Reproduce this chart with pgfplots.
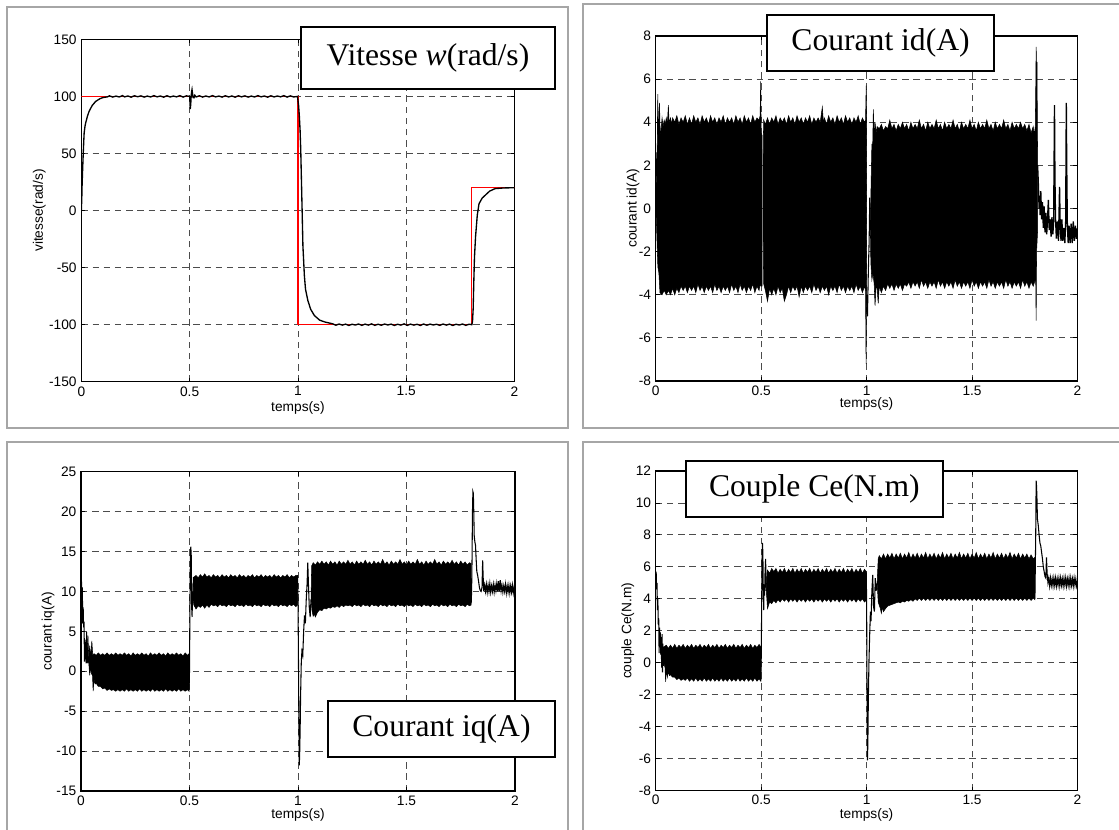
\documentclass[border=0pt]{standalone}
\usepackage{fontspec}
\setmainfont{Liberation Sans}
\newfontfamily\tnr{Liberation Serif}
\usepackage{pgfplots}
\pgfplotsset{compat=1.18}
\pgfplotsset{
 mstyle/.style={
  scale only axis, anchor=south west,
  xmin=0, xmax=2,
  xtick={0,0.5,1,1.5,2}, xticklabels={0,0.5,1,1.5,2},
  grid=major,
  major grid style={dash pattern=on 4.8pt off 3.6pt, black!70, line width=0.6pt},
  tick align=inside, major tick length=3pt,
  tick style={black, line width=0.6pt},
  axis line style={black, line width=1pt},
  tick label style={font=\fontsize{10.3}{12}\selectfont},
  label style={font=\fontsize{10.3}{12}\selectfont},
  xlabel={temps(s)},
 },
 band/.style={fill=black, draw=black, line width=0.4pt},
 sig/.style={black, line width=0.8pt},
}
\newcommand{\ttl}{\fontsize{23.7}{28}\selectfont\tnr}
\begin{document}
\begin{tikzpicture}
\useasboundingbox (0,0) rectangle (839.25pt,-621.75pt);
\draw[black!35, line width=0.9pt] (5.25pt,-5.25pt) rectangle (426pt,-321pt);
\draw[black!35, line width=0.9pt] (437.25pt,-3pt) rectangle (850pt,-321pt);
\draw[black!35, line width=0.9pt] (5.25pt,-331.5pt) rectangle (426pt,-630pt);
\draw[black!35, line width=0.9pt] (437.25pt,-331.5pt) rectangle (850pt,-630pt);

%% ---------------- Panel 1: vitesse
\begin{axis}[mstyle, at={(61pt,-286.3pt)}, width=324.9pt, height=256.8pt,
  ymin=-150, ymax=150, ytick={-150,-100,-50,0,50,100,150},
  yticklabels={-150,-100,-50,0,50,100,150},
  ylabel={vitesse(rad/s)},
  ylabel style={at={(axis description cs:-0.097,0.5)}, anchor=center},
  xlabel style={at={(axis description cs:0.5,0)}, anchor=center, yshift=-19.5pt}]
\addplot[red, line width=0.9pt] coordinates {(0,100)(1,100)(1,-100)(1.8,-100)(1.8,20)(2,20)};
\addplot[sig, line width=1pt] coordinates {
(0,0)(0.002,10)(0.0033,21)(0.006,36)(0.0083,47.5)(0.011,60)(0.013,68)(0.017,74)(0.02,76.7)(0.028,82.5)(0.036,87)(0.05,92)(0.066,95.6)(0.086,98)(0.1,99)(0.12,99.6)
(0.13,100.5)(0.145,99.4)(0.16,100.3)(0.175,99.5)(0.19,100.7)(0.2,99.6)(0.215,100.4)(0.23,99.3)(0.245,100.6)(0.26,99.7)(0.275,100.5)(0.29,99.4)(0.305,100.3)(0.32,99.5)(0.335,100.7)(0.35,99.6)(0.365,100.4)(0.38,99.3)(0.395,100.6)(0.41,99.5)(0.425,100.3)(0.44,99.6)(0.455,100.7)(0.47,99.4)(0.485,100.5)(0.5,100)
(0.501,97)(0.503,89)(0.505,93)(0.507,100)(0.509,104)(0.511,106)(0.513,103)(0.516,99)(0.52,98.8)(0.524,101)(0.53,99.5)
(0.545,100.6)(0.56,99.4)(0.575,100.4)(0.59,99.5)(0.605,100.7)(0.62,99.6)(0.635,100.3)(0.65,99.4)(0.665,100.6)(0.68,99.5)(0.695,100.4)(0.71,99.3)(0.725,100.6)(0.74,99.6)(0.755,100.5)(0.77,99.4)(0.785,100.3)(0.8,99.5)(0.815,100.7)(0.83,99.6)(0.845,100.4)(0.86,99.3)(0.875,100.6)(0.89,99.5)(0.905,100.4)(0.92,99.6)(0.935,100.7)(0.95,99.4)(0.965,100.5)(0.98,99.5)(0.998,100)
(1.003,92)(1.0066,82.5)(1.01,70)(1.013,53)(1.0182,9.6)(1.023,-31)(1.0297,-57)(1.035,-69)(1.046,-79)(1.059,-86.6)(1.076,-92)(1.1,-96)(1.125,-97.7)(1.16,-99.2)
(1.175,-100.5)(1.19,-99.4)(1.205,-100.4)(1.22,-99.5)(1.235,-100.7)(1.25,-99.6)(1.265,-100.3)(1.28,-99.4)(1.295,-100.6)(1.31,-99.5)(1.325,-100.4)(1.34,-99.3)(1.355,-100.6)(1.37,-99.6)(1.385,-100.5)(1.4,-99.4)(1.415,-100.3)(1.43,-99.5)(1.445,-100.7)(1.46,-99.6)(1.475,-100.4)(1.49,-99.3)(1.505,-100.6)(1.52,-99.5)(1.535,-100.4)(1.55,-99.6)(1.565,-100.7)(1.58,-99.4)(1.595,-100.5)(1.61,-99.5)(1.625,-100.3)(1.64,-99.6)(1.655,-100.6)(1.67,-99.4)(1.685,-100.4)(1.7,-99.5)(1.715,-100.7)(1.73,-99.6)(1.745,-100.3)(1.76,-99.4)(1.775,-100.6)(1.79,-99.6)(1.803,-100)
(1.806,-97)(1.809,-86)(1.812,-62)(1.815,-41)(1.82,-23)(1.828,-4)(1.836,6)(1.851,11)(1.868,14)(1.885,17)(1.91,19.2)(1.95,19.8)(2,20)};
\end{axis}

%% ---------------- Panel 2: id
\begin{axis}[mstyle, at={(491.8pt,-285.75pt)}, width=316.3pt, height=258.75pt,
  ymin=-8, ymax=8, ytick={-8,-6,-4,-2,0,2,4,6,8},
  yticklabels={-8,-6,-4,-2,0,2,4,6,8},
  ylabel={courant id(A)},
  ylabel style={at={(axis description cs:-0.054,0.5)}, anchor=center},
  xlabel style={at={(axis description cs:0.5,0)}, anchor=center, yshift=-17.5pt}]
\addplot[band] coordinates {
(0.001,0)(0.004,2.6)(0.006,1.5)(0.008,4.0)(0.01,5.3)(0.012,3.4)(0.015,4.0)(0.018,4.9)(0.021,3.4)(0.025,3.6)(0.03,4.2)(0.035,3.8)(0.04,4.1)(0.045,3.9)(0.05,4.2)(0.055,3.9)(0.06,4.8)(0.063,4.0)(0.07,4.2)(0.075,3.9)(0.08,4.2)(0.09,4.0)(0.1,4.3)(0.11,3.9)(0.12,4.2)(0.13,4.0)(0.14,4.3)(0.15,3.9)(0.16,4.2)(0.17,3.9)(0.18,4.3)(0.19,4.0)(0.2,4.2)(0.21,3.9)(0.22,4.3)(0.23,4.0)(0.24,4.2)(0.25,3.9)(0.26,4.3)(0.27,4.0)(0.28,4.2)(0.29,3.9)(0.3,4.2)(0.31,4.0)(0.32,4.3)(0.33,3.9)(0.34,4.2)(0.35,4.0)(0.36,4.2)(0.37,3.9)(0.38,4.3)(0.39,4.0)(0.4,4.2)(0.41,3.9)(0.42,4.3)(0.43,4.0)(0.44,4.2)(0.45,3.9)(0.46,4.3)(0.47,4.0)(0.48,4.2)(0.49,4.1)(0.495,4.3)(0.4975,5.9)(0.5,3.5)(0.504,3.4)
(0.504,-3.6)(0.499,-3.6)(0.495,-3.5)(0.49,-3.8)(0.48,-3.6)(0.47,-3.9)(0.46,-3.5)(0.45,-3.8)(0.44,-3.6)(0.43,-3.9)(0.42,-3.6)(0.41,-3.8)(0.4,-3.5)(0.39,-3.9)(0.38,-3.6)(0.37,-3.8)(0.36,-3.5)(0.35,-3.9)(0.34,-3.6)(0.33,-3.8)(0.32,-3.6)(0.31,-3.9)(0.3,-3.6)(0.29,-3.8)(0.28,-3.5)(0.27,-3.9)(0.26,-3.6)(0.25,-3.8)(0.24,-3.6)(0.23,-3.9)(0.22,-3.6)(0.21,-3.8)(0.2,-3.5)(0.19,-3.9)(0.18,-3.6)(0.17,-3.8)(0.16,-3.6)(0.15,-3.9)(0.14,-3.6)(0.13,-3.8)(0.12,-3.6)(0.11,-3.9)(0.1,-3.7)(0.09,-4.0)(0.08,-3.7)(0.07,-4.0)(0.06,-3.8)(0.05,-4.0)(0.04,-3.8)(0.03,-4.0)(0.02,-3.9)(0.015,-3.0)(0.01,-2.7)(0.006,-1.5)(0.001,0)};
\addplot[band] coordinates {
(0.509,0.5)(0.51,3.0)(0.512,4.1)(0.52,3.9)(0.53,4.2)(0.54,3.9)(0.55,4.2)(0.56,4.0)(0.57,4.3)(0.58,3.9)(0.59,4.2)(0.6,4.0)(0.61,4.2)(0.62,3.9)(0.63,4.3)(0.64,4.0)(0.65,4.2)(0.66,3.9)(0.67,4.3)(0.68,4.0)(0.69,4.2)(0.7,3.9)(0.71,4.2)(0.72,4.0)(0.73,4.3)(0.74,3.9)(0.75,4.2)(0.76,4.0)(0.77,4.2)(0.78,4.0)(0.79,4.7)(0.795,4.0)(0.8,4.2)(0.81,3.9)(0.82,4.3)(0.83,4.0)(0.84,4.2)(0.85,3.9)(0.86,4.3)(0.87,4.0)(0.88,4.2)(0.89,3.9)(0.9,4.3)(0.91,4.0)(0.92,4.2)(0.93,3.9)(0.94,4.2)(0.95,4.0)(0.96,4.3)(0.97,3.9)(0.98,4.2)(0.99,4.0)(0.995,4.1)(0.998,5.7)(1.0,4.0)
(1.0,-4.0)(0.9975,-7.2)(0.995,-3.8)(0.99,-3.6)(0.98,-3.9)(0.97,-3.6)(0.96,-3.8)(0.95,-3.5)(0.94,-3.9)(0.93,-3.6)(0.92,-3.8)(0.91,-3.6)(0.9,-3.9)(0.89,-3.6)(0.88,-3.8)(0.87,-3.5)(0.86,-3.9)(0.85,-3.6)(0.84,-3.8)(0.83,-3.6)(0.82,-4.0)(0.81,-3.6)(0.8,-3.8)(0.79,-3.6)(0.78,-3.9)(0.77,-3.6)(0.76,-3.8)(0.75,-3.5)(0.74,-3.9)(0.73,-3.6)(0.72,-3.8)(0.71,-3.6)(0.7,-3.9)(0.69,-3.6)(0.68,-4.1)(0.67,-3.6)(0.66,-3.8)(0.65,-3.6)(0.64,-3.9)(0.63,-3.6)(0.62,-4.0)(0.61,-4.3)(0.6,-3.7)(0.59,-3.9)(0.58,-3.6)(0.57,-4.0)(0.56,-3.7)(0.55,-4.0)(0.54,-3.7)(0.53,-4.3)(0.52,-3.8)(0.512,-3.5)(0.51,-2)(0.509,0.5)};
\addplot[sig] coordinates {(1.0,-4)(1.004,-5)(1.008,-3)(1.012,-1.5)(1.015,0.5)(1.018,-1)};
\addplot[band] coordinates {
(1.018,-1)(1.02,0.5)(1.025,3.0)(1.028,2.5)(1.032,4.6)(1.036,3.2)(1.04,4.0)(1.045,3.5)(1.05,3.8)(1.06,3.7)(1.07,3.9)(1.08,3.6)(1.09,3.8)(1.1,3.7)(1.11,4.1)(1.12,3.7)(1.13,3.9)(1.14,3.6)(1.15,3.9)(1.16,3.7)(1.17,4.0)(1.18,3.7)(1.19,3.9)(1.2,3.6)(1.21,4.0)(1.22,3.7)(1.23,3.9)(1.24,3.7)(1.25,4.1)(1.26,3.7)(1.27,3.9)(1.28,3.6)(1.29,4.0)(1.3,3.7)(1.31,3.9)(1.32,3.7)(1.33,4.1)(1.34,3.7)(1.35,3.9)(1.36,3.6)(1.37,4.0)(1.38,3.7)(1.39,3.9)(1.4,3.7)(1.41,4.1)(1.42,3.7)(1.43,3.9)(1.44,3.6)(1.45,4.0)(1.46,3.7)(1.47,3.9)(1.48,3.7)(1.49,4.1)(1.5,3.7)(1.51,3.9)(1.52,3.6)(1.53,4.0)(1.54,3.7)(1.55,3.9)(1.56,3.7)(1.57,4.1)(1.58,3.7)(1.59,3.9)(1.6,3.6)(1.61,4.0)(1.62,3.7)(1.63,3.9)(1.64,3.7)(1.65,4.1)(1.66,3.7)(1.67,3.9)(1.68,3.6)(1.69,4.0)(1.7,3.7)(1.71,3.9)(1.72,3.7)(1.73,4.0)(1.74,3.7)(1.75,3.9)(1.76,3.6)(1.77,3.9)(1.78,3.5)(1.79,3.8)(1.795,3.4)(1.8,3.8)(1.802,5.5)(1.804,7.5)(1.806,6.5)(1.808,6.8)(1.811,2)
(1.811,-1)(1.806,-2)(1.804,-5.2)(1.802,-3.4)(1.8,-3.3)(1.79,-3.6)(1.78,-3.4)(1.77,-3.7)(1.76,-3.4)(1.75,-3.6)(1.74,-3.3)(1.73,-3.7)(1.72,-3.4)(1.71,-3.6)(1.7,-3.4)(1.69,-3.7)(1.68,-3.4)(1.67,-3.6)(1.66,-3.3)(1.65,-3.7)(1.64,-3.4)(1.63,-3.6)(1.62,-3.4)(1.61,-3.7)(1.6,-3.4)(1.59,-3.6)(1.58,-3.3)(1.57,-3.7)(1.56,-3.4)(1.55,-3.6)(1.54,-3.4)(1.53,-3.7)(1.52,-3.4)(1.51,-3.6)(1.5,-3.3)(1.49,-3.7)(1.48,-3.4)(1.47,-3.6)(1.46,-3.4)(1.45,-3.7)(1.44,-3.4)(1.43,-3.6)(1.42,-3.3)(1.41,-3.7)(1.4,-3.4)(1.39,-3.6)(1.38,-3.4)(1.37,-3.7)(1.36,-3.4)(1.35,-3.6)(1.34,-3.3)(1.33,-3.7)(1.32,-3.4)(1.31,-3.6)(1.3,-3.4)(1.29,-3.7)(1.28,-3.4)(1.27,-3.6)(1.26,-3.3)(1.25,-3.7)(1.24,-3.4)(1.23,-3.6)(1.22,-3.4)(1.21,-3.7)(1.2,-3.4)(1.19,-3.6)(1.18,-3.5)(1.17,-3.8)(1.16,-3.5)(1.15,-3.7)(1.14,-3.5)(1.13,-3.8)(1.12,-3.5)(1.11,-3.7)(1.1,-3.5)(1.09,-3.8)(1.08,-3.6)(1.07,-3.9)(1.06,-3.6)(1.055,-4.4)(1.05,-3.7)(1.045,-3.6)(1.04,-4.5)(1.036,-3.5)(1.03,-3.0)(1.025,-3.3)(1.02,-2.5)(1.018,-1)};
\addplot[sig, line width=1pt] coordinates {
(1.811,2)(1.815,1)(1.818,0)(1.82,0.6)(1.823,-0.3)(1.826,0.8)(1.83,-0.5)(1.834,0.3)(1.838,-0.9)(1.842,0.1)(1.846,-1.1)(1.85,-0.2)(1.854,-1.2)(1.858,-0.5)(1.862,0.4)(1.866,-1.0)(1.87,-0.5)(1.875,-1.3)(1.879,-0.4)(1.883,-1.2)(1.887,-0.6)(1.891,4.8)(1.893,1.5)(1.896,-0.5)(1.9,-1.4)(1.905,-0.6)(1.91,-1.5)(1.915,1.0)(1.918,-0.8)(1.922,-1.5)(1.926,-0.5)(1.93,-1.5)(1.935,-0.9)(1.94,-1.6)(1.944,-0.6)(1.947,4.9)(1.949,2)(1.952,-0.8)(1.956,-1.6)(1.96,-0.8)(1.965,-1.6)(1.97,-0.7)(1.975,-1.6)(1.98,-0.6)(1.985,-1.5)(1.99,-0.8)(1.995,-1.4)(2,-0.9)};
\end{axis}

%% ---------------- Panel 3: iq
\begin{axis}[mstyle, at={(60.75pt,-593.25pt)}, width=325.5pt, height=239.5pt,
  ymin=-15, ymax=25, ytick={-15,-10,-5,0,5,10,15,20,25},
  yticklabels={-15,-10,-5,0,5,10,15,20,25},
  ylabel={courant iq(A)},
  ylabel style={at={(axis description cs:-0.076,0.5)}, anchor=center},
  xlabel style={at={(axis description cs:0.5,0)}, anchor=center, yshift=-18pt}]
\addplot[sig] coordinates {(0,11.3)(0.002,11.4)(0.004,9)(0.006,10.5)(0.008,6)(0.01,8)(0.012,5.5)(0.014,6.2)(0.016,1.2)(0.018,4)(0.02,1.5)(0.022,3.5)(0.024,1.0)(0.026,4.9)(0.028,2)(0.03,3)};
\addplot[band] coordinates {
(0.028,2.5)(0.032,4.5)(0.036,1.5)(0.04,3.2)(0.045,1.8)(0.05,3.8)(0.054,2.0)(0.06,2.2)(0.07,2.0)(0.08,2.3)(0.09,2.0)(0.1,2.2)(0.11,2.0)(0.12,2.3)(0.13,2.0)(0.14,2.2)(0.15,2.0)(0.16,2.3)(0.17,2.0)(0.18,2.2)(0.19,2.0)(0.2,2.3)(0.21,2.0)(0.22,2.2)(0.23,1.9)(0.24,2.3)(0.25,2.0)(0.26,2.2)(0.27,2.0)(0.28,2.3)(0.29,2.0)(0.3,2.2)(0.31,1.9)(0.32,2.3)(0.33,2.0)(0.34,2.2)(0.35,2.0)(0.36,2.3)(0.37,2.0)(0.38,2.2)(0.39,1.9)(0.4,2.3)(0.41,2.0)(0.42,2.2)(0.43,2.0)(0.44,2.3)(0.45,2.0)(0.46,2.2)(0.47,1.9)(0.48,2.3)(0.49,2.0)(0.498,2.2)
(0.498,-2.5)(0.49,-2.3)(0.48,-2.5)(0.47,-2.3)(0.46,-2.5)(0.45,-2.2)(0.44,-2.5)(0.43,-2.3)(0.42,-2.5)(0.41,-2.3)(0.4,-2.5)(0.39,-2.2)(0.38,-2.5)(0.37,-2.3)(0.36,-2.5)(0.35,-2.3)(0.34,-2.5)(0.33,-2.2)(0.32,-2.5)(0.31,-2.3)(0.3,-2.5)(0.29,-2.3)(0.28,-2.5)(0.27,-2.2)(0.26,-2.5)(0.25,-2.3)(0.24,-2.5)(0.23,-2.3)(0.22,-2.5)(0.21,-2.2)(0.2,-2.5)(0.19,-2.3)(0.18,-2.5)(0.17,-2.3)(0.16,-2.5)(0.15,-2.3)(0.14,-2.4)(0.13,-2.2)(0.12,-2.4)(0.11,-2.1)(0.1,-2.2)(0.09,-1.9)(0.08,-1.9)(0.07,-1.5)(0.065,-1.6)(0.06,-1.0)(0.056,-2.5)(0.053,-0.5)(0.048,-0.3)(0.044,0.5)(0.04,-0.5)(0.036,1.0)(0.032,1.2)(0.028,1.0)};
\addplot[sig] coordinates {(0.498,-2.3)(0.5,0)(0.502,8)(0.504,14)(0.506,15.6)(0.508,14.5)(0.51,8)(0.512,6.8)(0.514,10)(0.516,9)(0.518,11.8)};
\addplot[band] coordinates {
(0.516,9)(0.52,11.8)(0.53,12.0)(0.54,11.7)(0.55,12.1)(0.56,11.8)(0.57,12.2)(0.58,11.8)(0.59,12.0)(0.6,11.7)(0.61,12.1)(0.62,11.8)(0.63,12.0)(0.64,11.7)(0.65,12.1)(0.66,11.8)(0.67,12.0)(0.68,11.7)(0.69,12.1)(0.7,11.8)(0.71,12.0)(0.72,11.7)(0.73,12.1)(0.74,11.8)(0.75,12.0)(0.76,11.7)(0.77,12.0)(0.78,11.8)(0.79,12.1)(0.8,11.7)(0.81,12.0)(0.82,11.8)(0.83,12.1)(0.84,11.7)(0.85,12.0)(0.86,11.8)(0.87,12.0)(0.88,11.7)(0.89,12.1)(0.9,11.8)(0.91,12.0)(0.92,11.7)(0.93,12.0)(0.94,11.8)(0.95,12.1)(0.96,11.7)(0.97,12.0)(0.98,11.8)(0.99,12.0)(0.998,12.0)
(0.998,8.3)(0.99,8.1)(0.98,8.4)(0.97,8.2)(0.96,8.4)(0.95,8.1)(0.94,8.3)(0.93,8.2)(0.92,8.4)(0.91,8.1)(0.9,8.3)(0.89,8.2)(0.88,8.4)(0.87,8.1)(0.86,8.3)(0.85,8.2)(0.84,8.4)(0.83,8.1)(0.82,8.3)(0.81,8.2)(0.8,8.4)(0.79,8.1)(0.78,8.3)(0.77,8.2)(0.76,8.4)(0.75,8.1)(0.74,8.3)(0.73,8.2)(0.72,8.4)(0.71,8.1)(0.7,8.3)(0.69,8.2)(0.68,8.4)(0.67,8.1)(0.66,8.3)(0.65,8.2)(0.64,8.4)(0.63,8.1)(0.62,8.3)(0.61,8.2)(0.6,8.4)(0.59,8.0)(0.58,8.3)(0.57,7.9)(0.56,8.3)(0.55,8.0)(0.54,8.2)(0.53,7.8)(0.52,8.3)(0.516,9)};
\addplot[sig] coordinates {(0.998,12)(1.0,9)(1.002,2)(1.004,-6)(1.006,-11.8)(1.008,-10)(1.01,-7)(1.012,-3)(1.015,1)(1.018,2.5)(1.022,2)(1.026,5)(1.03,7)(1.034,6)(1.038,9)(1.042,11)(1.045,13.6)(1.048,11)(1.052,8)(1.056,6.8)(1.06,9)};
\addplot[band] coordinates {
(1.06,9)(1.063,13.2)(1.07,13.6)(1.08,13.3)(1.09,13.7)(1.1,13.4)(1.11,13.8)(1.12,13.4)(1.13,13.7)(1.14,13.3)(1.15,13.8)(1.16,13.4)(1.17,13.7)(1.18,13.3)(1.19,13.8)(1.2,13.4)(1.21,13.7)(1.22,13.4)(1.23,13.9)(1.24,13.4)(1.25,13.7)(1.26,13.3)(1.27,13.8)(1.28,13.4)(1.29,13.7)(1.3,13.4)(1.31,13.9)(1.32,13.4)(1.33,13.7)(1.34,13.3)(1.35,13.8)(1.36,13.4)(1.37,13.7)(1.38,13.4)(1.39,14.0)(1.4,13.4)(1.41,13.7)(1.42,13.3)(1.43,13.8)(1.44,13.4)(1.45,13.7)(1.46,13.4)(1.47,14.0)(1.48,13.4)(1.49,13.7)(1.5,13.3)(1.51,13.8)(1.52,13.4)(1.53,13.7)(1.54,13.4)(1.55,14.0)(1.56,13.4)(1.57,13.7)(1.58,13.3)(1.59,13.8)(1.6,13.4)(1.61,13.7)(1.62,13.4)(1.63,14.0)(1.64,13.4)(1.65,13.7)(1.66,13.3)(1.67,13.8)(1.68,13.4)(1.69,13.7)(1.7,13.4)(1.71,13.9)(1.72,13.4)(1.73,13.7)(1.74,13.3)(1.75,13.8)(1.76,13.4)(1.77,13.7)(1.78,13.3)(1.79,13.6)(1.798,13.5)
(1.798,8.3)(1.79,8.2)(1.78,8.4)(1.77,8.1)(1.76,8.3)(1.75,8.2)(1.74,8.4)(1.73,8.1)(1.72,8.3)(1.71,8.2)(1.7,8.4)(1.69,8.1)(1.68,8.3)(1.67,8.2)(1.66,8.4)(1.65,8.1)(1.64,8.3)(1.63,8.2)(1.62,8.4)(1.61,8.1)(1.6,8.3)(1.59,8.2)(1.58,8.4)(1.57,8.1)(1.56,8.3)(1.55,8.2)(1.54,8.4)(1.53,8.1)(1.52,8.3)(1.51,8.2)(1.5,8.4)(1.49,8.1)(1.48,8.3)(1.47,8.2)(1.46,8.4)(1.45,8.1)(1.44,8.3)(1.43,8.2)(1.42,8.4)(1.41,8.1)(1.4,8.3)(1.39,8.2)(1.38,8.4)(1.37,8.1)(1.36,8.3)(1.35,8.2)(1.34,8.4)(1.33,8.1)(1.32,8.3)(1.31,8.2)(1.3,8.4)(1.29,8.1)(1.28,8.3)(1.27,8.2)(1.26,8.4)(1.25,8.1)(1.24,8.3)(1.23,8.2)(1.22,8.3)(1.21,8.1)(1.2,8.3)(1.19,8.0)(1.18,8.2)(1.17,8.0)(1.16,8.1)(1.15,7.9)(1.14,8.0)(1.13,7.8)(1.12,7.9)(1.11,7.6)(1.1,7.7)(1.09,7.4)(1.08,6.8)(1.075,7.2)(1.07,6.9)(1.065,7.5)(1.06,9)};
\addplot[sig] coordinates {
(1.798,8.5)(1.8,10)(1.802,14)(1.804,20)(1.806,22.5)(1.808,22.3)(1.81,20)(1.812,17)(1.815,16.2)(1.818,15.8)(1.821,14)(1.824,12.5)(1.828,12)(1.832,11.3)(1.836,10.5)(1.84,10.1)(1.844,10.0)(1.848,10.5)(1.851,13.9)(1.853,12)(1.856,10)(1.86,10.8)
(1.864,10.0)(1.868,10.9)(1.872,9.9)(1.876,10.8)(1.88,10.0)(1.884,11.0)(1.888,9.9)(1.892,10.7)(1.896,10.0)(1.9,10.9)(1.904,9.9)(1.908,10.8)(1.912,10.1)(1.916,11.0)(1.92,10.0)(1.924,11.3)(1.928,10.0)(1.932,11.4)(1.936,10.1)(1.94,10.8)(1.944,9.9)(1.948,10.7)(1.952,10.0)(1.956,10.9)(1.96,9.8)(1.964,10.7)(1.968,9.9)(1.972,10.8)(1.976,9.8)(1.98,10.7)(1.984,9.9)(1.988,10.8)(1.992,9.8)(1.996,10.6)(2.0,10.0)};
\end{axis}

%% ---------------- Panel 4: Ce
\begin{axis}[mstyle, at={(491.8pt,-593pt)}, width=316.3pt, height=239.8pt,
  ymin=-8, ymax=12, ytick={-8,-6,-4,-2,0,2,4,6,8,10,12},
  yticklabels={-8,-6,-4,-2,0,2,4,6,8,10,12},
  ylabel={couple Ce(N.m)},
  ylabel style={at={(axis description cs:-0.066,0.5)}, anchor=center},
  xlabel style={at={(axis description cs:0.5,0)}, anchor=center, yshift=-18pt}]
\addplot[sig] coordinates {(0,5.5)(0.002,5.7)(0.004,4.6)(0.006,5.0)(0.008,3.3)(0.01,4.0)(0.012,2.4)(0.014,2.8)(0.016,0.6)(0.018,2.2)(0.02,1.0)(0.022,1.9)(0.024,0.5)(0.026,1.6)(0.028,-0.3)(0.03,1.8)(0.032,-0.6)(0.034,1.2)(0.036,-0.2)(0.038,1.0)};
\addplot[band] coordinates {
(0.036,0.5)(0.04,1.0)(0.05,1.1)(0.06,0.9)(0.07,1.1)(0.08,0.9)(0.09,1.15)(0.1,0.9)(0.11,1.1)(0.12,0.95)(0.13,1.15)(0.14,0.9)(0.15,1.1)(0.16,0.95)(0.17,1.15)(0.18,0.9)(0.19,1.1)(0.2,0.95)(0.21,1.15)(0.22,0.9)(0.23,1.1)(0.24,0.95)(0.25,1.15)(0.26,0.9)(0.27,1.1)(0.28,0.95)(0.29,1.15)(0.3,0.9)(0.31,1.1)(0.32,0.95)(0.33,1.15)(0.34,0.9)(0.35,1.1)(0.36,0.95)(0.37,1.15)(0.38,0.9)(0.39,1.1)(0.4,0.95)(0.41,1.15)(0.42,0.9)(0.43,1.1)(0.44,0.95)(0.45,1.15)(0.46,0.9)(0.47,1.1)(0.48,0.95)(0.49,1.15)(0.498,1.0)
(0.498,-1.15)(0.49,-1.0)(0.48,-1.15)(0.47,-0.95)(0.46,-1.15)(0.45,-1.0)(0.44,-1.15)(0.43,-0.95)(0.42,-1.15)(0.41,-1.0)(0.4,-1.15)(0.39,-0.95)(0.38,-1.15)(0.37,-1.0)(0.36,-1.15)(0.35,-0.95)(0.34,-1.15)(0.33,-1.0)(0.32,-1.15)(0.31,-0.95)(0.3,-1.15)(0.29,-1.0)(0.28,-1.15)(0.27,-0.95)(0.26,-1.15)(0.25,-1.0)(0.24,-1.15)(0.23,-0.95)(0.22,-1.15)(0.21,-1.0)(0.2,-1.15)(0.19,-0.95)(0.18,-1.15)(0.17,-1.0)(0.16,-1.15)(0.15,-0.95)(0.14,-1.1)(0.13,-1.0)(0.12,-1.1)(0.11,-0.95)(0.1,-1.05)(0.09,-0.9)(0.08,-0.9)(0.07,-0.75)(0.065,-0.8)(0.06,-0.55)(0.055,-0.9)(0.05,-0.4)(0.047,-1.2)(0.044,-0.3)(0.04,-0.1)(0.036,0.3)};
\addplot[sig] coordinates {(0.498,-1.1)(0.5,0)(0.502,3)(0.504,6.5)(0.506,7.5)(0.508,6.9)(0.51,4.5)(0.512,3.3)(0.514,4.8)(0.516,4.2)(0.518,5.5)(0.521,6.5)(0.524,4.5)};
\addplot[band] coordinates {
(0.524,4.5)(0.527,5.6)(0.53,5.8)(0.54,5.6)(0.55,5.9)(0.56,5.7)(0.57,5.9)(0.58,5.6)(0.59,5.85)(0.6,5.65)(0.61,5.9)(0.62,5.6)(0.63,5.85)(0.64,5.65)(0.65,5.9)(0.66,5.6)(0.67,5.85)(0.68,5.65)(0.69,5.9)(0.7,5.6)(0.71,5.85)(0.72,5.65)(0.73,5.9)(0.74,5.6)(0.75,5.85)(0.76,5.65)(0.77,5.9)(0.78,5.6)(0.79,5.85)(0.8,5.65)(0.81,5.9)(0.82,5.6)(0.83,5.85)(0.84,5.65)(0.85,5.9)(0.86,5.6)(0.87,5.85)(0.88,5.65)(0.89,5.9)(0.9,5.6)(0.91,5.85)(0.92,5.65)(0.93,5.9)(0.94,5.6)(0.95,5.85)(0.96,5.65)(0.97,5.9)(0.98,5.6)(0.99,5.85)(0.998,5.7)
(0.998,3.9)(0.99,3.8)(0.98,4.0)(0.97,3.85)(0.96,4.0)(0.95,3.8)(0.94,4.0)(0.93,3.85)(0.92,4.0)(0.91,3.8)(0.9,4.0)(0.89,3.85)(0.88,4.0)(0.87,3.8)(0.86,4.0)(0.85,3.85)(0.84,4.0)(0.83,3.8)(0.82,4.0)(0.81,3.85)(0.8,4.0)(0.79,3.8)(0.78,4.0)(0.77,3.85)(0.76,4.0)(0.75,3.8)(0.74,4.0)(0.73,3.85)(0.72,4.0)(0.71,3.8)(0.7,4.0)(0.69,3.85)(0.68,4.0)(0.67,3.8)(0.66,4.0)(0.65,3.85)(0.64,4.0)(0.63,3.8)(0.62,4.0)(0.61,3.85)(0.6,4.0)(0.59,3.8)(0.58,3.95)(0.57,3.75)(0.56,3.9)(0.55,3.7)(0.54,3.8)(0.53,3.4)(0.527,4.0)(0.524,4.5)};
\addplot[sig] coordinates {(0.998,5.7)(1.0,4)(1.002,-2)(1.004,-6.1)(1.006,-5)(1.008,-2.5)(1.011,0)(1.014,1.5)(1.018,3.2)(1.021,2.6)(1.025,4.5)(1.029,5.5)(1.033,3.5)(1.037,3.2)(1.041,5.3)(1.045,4.5)(1.05,5.0)};
\addplot[band] coordinates {
(1.05,5.0)(1.055,6.5)(1.06,6.7)(1.07,6.5)(1.08,6.8)(1.09,6.5)(1.1,6.8)(1.11,6.55)(1.12,6.85)(1.13,6.5)(1.14,6.8)(1.15,6.55)(1.16,6.85)(1.17,6.5)(1.18,6.8)(1.19,6.55)(1.2,6.9)(1.21,6.5)(1.22,6.8)(1.23,6.55)(1.24,6.85)(1.25,6.5)(1.26,6.8)(1.27,6.55)(1.28,6.9)(1.29,6.5)(1.3,6.8)(1.31,6.55)(1.32,6.85)(1.33,6.5)(1.34,6.8)(1.35,6.55)(1.36,6.9)(1.37,6.5)(1.38,6.8)(1.39,6.55)(1.4,6.85)(1.41,6.5)(1.42,6.8)(1.43,6.55)(1.44,6.9)(1.45,6.5)(1.46,6.8)(1.47,6.55)(1.48,6.85)(1.49,6.5)(1.5,6.8)(1.51,6.55)(1.52,6.9)(1.53,6.5)(1.54,6.8)(1.55,6.55)(1.56,6.85)(1.57,6.5)(1.58,6.8)(1.59,6.55)(1.6,6.9)(1.61,6.5)(1.62,6.8)(1.63,6.55)(1.64,6.85)(1.65,6.5)(1.66,6.8)(1.67,6.55)(1.68,6.9)(1.69,6.5)(1.7,6.8)(1.71,6.55)(1.72,6.85)(1.73,6.5)(1.74,6.8)(1.75,6.55)(1.76,6.8)(1.77,6.5)(1.78,6.75)(1.79,6.5)(1.798,6.6)
(1.798,3.95)(1.79,4.05)(1.78,3.9)(1.77,4.05)(1.76,3.9)(1.75,4.05)(1.74,3.9)(1.73,4.05)(1.72,3.9)(1.71,4.05)(1.7,3.9)(1.69,4.05)(1.68,3.9)(1.67,4.05)(1.66,3.9)(1.65,4.05)(1.64,3.9)(1.63,4.05)(1.62,3.9)(1.61,4.05)(1.6,3.9)(1.59,4.05)(1.58,3.9)(1.57,4.05)(1.56,3.9)(1.55,4.05)(1.54,3.9)(1.53,4.05)(1.52,3.9)(1.51,4.05)(1.5,3.9)(1.49,4.05)(1.48,3.9)(1.47,4.05)(1.46,3.9)(1.45,4.05)(1.44,3.9)(1.43,4.05)(1.42,3.9)(1.41,4.05)(1.4,3.9)(1.39,4.05)(1.38,3.9)(1.37,4.05)(1.36,3.9)(1.35,4.05)(1.34,3.9)(1.33,4.05)(1.32,3.9)(1.31,4.05)(1.3,3.9)(1.29,4.05)(1.28,3.9)(1.27,4.05)(1.26,3.9)(1.25,4.05)(1.24,3.9)(1.23,4.0)(1.22,3.85)(1.21,3.95)(1.2,3.85)(1.19,3.9)(1.18,3.8)(1.17,3.85)(1.16,3.75)(1.15,3.8)(1.14,3.75)(1.13,3.7)(1.12,3.65)(1.11,3.6)(1.1,3.55)(1.09,3.4)(1.08,3.2)(1.075,3.5)(1.07,3.1)(1.065,3.4)(1.06,3.6)(1.055,3.8)(1.05,5.0)};
\addplot[sig] coordinates {
(1.798,4)(1.8,6)(1.802,8)(1.804,11.4)(1.806,11.0)(1.808,10.2)(1.81,9)(1.814,8.6)(1.818,8.0)(1.822,7.5)(1.826,7.3)(1.83,6.9)(1.834,6.5)(1.838,6.0)(1.842,5.7)(1.846,5.4)(1.85,5.3)(1.853,6.6)(1.856,5.6)(1.86,5.0)
(1.864,5.3)(1.868,4.8)(1.872,5.3)(1.876,4.85)(1.88,5.25)(1.884,4.8)(1.888,5.3)(1.892,4.85)(1.896,5.3)(1.9,4.8)(1.904,5.25)(1.908,4.85)(1.912,5.3)(1.916,4.8)(1.92,5.3)(1.924,4.85)(1.928,5.25)(1.932,4.8)(1.936,5.3)(1.94,4.85)(1.944,5.3)(1.948,4.8)(1.952,5.25)(1.956,4.85)(1.96,5.3)(1.964,4.8)(1.968,5.3)(1.972,4.85)(1.976,5.25)(1.98,4.8)(1.984,5.3)(1.988,4.85)(1.992,5.25)(1.996,4.8)(2,5.1)};
\end{axis}

%% title boxes
\draw[fill=white, line width=1.3pt] (225.75pt,-20pt) rectangle (416.25pt,-67pt);
\node[font=\ttl] at (321pt,-43.5pt) {Vitesse \textit{w}(rad/s)};
\draw[fill=white, line width=1.3pt] (575.25pt,-11pt) rectangle (745.5pt,-53.25pt);
\node[font=\ttl] at (660.4pt,-32.1pt) {Courant id(A)};
\draw[fill=white, line width=1.3pt] (246pt,-525.5pt) rectangle (416.25pt,-568pt);
\node[font=\ttl] at (331.1pt,-546.75pt) {Courant iq(A)};
\draw[fill=white, line width=1.3pt] (514.3pt,-345.75pt) rectangle (707.25pt,-387.75pt);
\node[font=\ttl] at (610.8pt,-366.75pt) {Couple Ce(N.m)};
\end{tikzpicture}
\end{document}
